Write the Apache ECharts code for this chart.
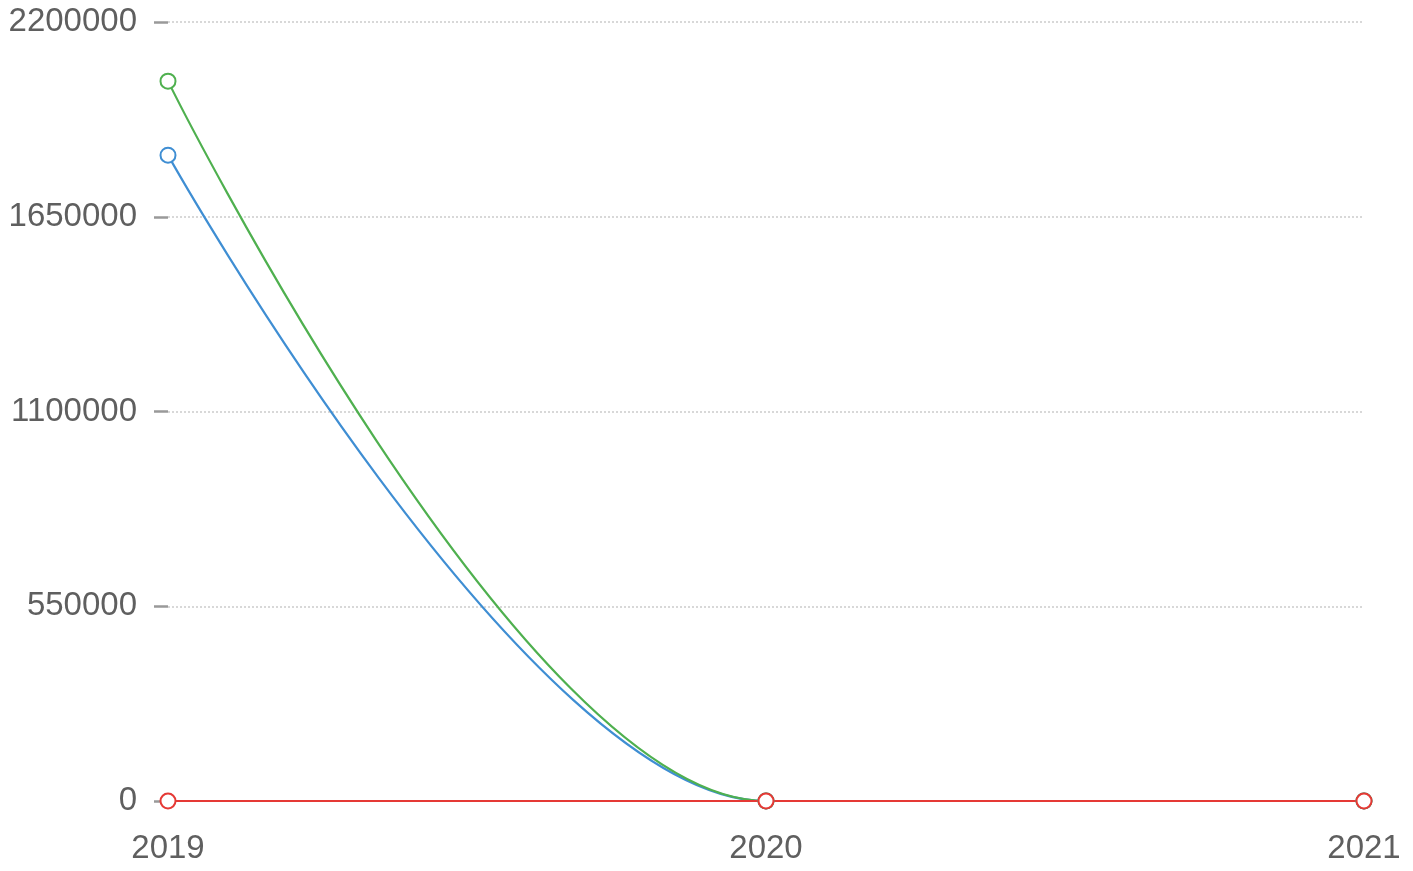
<!DOCTYPE html>
<html>
<head>
<meta charset="utf-8">
<script src="https://cdn.jsdelivr.net/npm/echarts@6/dist/echarts.min.js"></script>
<style>html,body{margin:0;padding:0;background:#fff}#c{width:1413px;height:871px}</style>
</head>
<body>
<div id="c"></div>
<script>
var categories = ['2019', '2020', '2021'];
var blueValues = [1824000, 0, 0];
var greenValues = [2033000, 0, 0];
var redValues = [0, 0, 0];
var yTicks = [0, 550000, 1100000, 1650000, 2200000];

var chart = echarts.init(document.getElementById('c'));
function mk(data, color) {
  return {
    type: 'line', data: data, smooth: 0.33,
    symbol: 'emptyCircle', symbolSize: 15,
    lineStyle: { color: color, width: 2.2 },
    itemStyle: { color: color, borderColor: color, borderWidth: 2.8 }
  };
}
chart.setOption({
  animation: false,
  grid: { left: 168, right: 49, top: 22, bottom: 70, outerBoundsMode: 'none', containLabel: false },
  xAxis: {
    type: 'category', data: categories, boundaryGap: false,
    axisLine: { show: false }, axisTick: { show: false },
    axisLabel: { color: '#5f5f5f', fontSize: 33, fontFamily: 'Liberation Sans, Arial, sans-serif', margin: 31 }
  },
  yAxis: {
    type: 'value', min: yTicks[0], max: yTicks[yTicks.length - 1], interval: yTicks[1] - yTicks[0],
    axisLine: { show: false },
    axisTick: { show: true, length: 14, lineStyle: { color: '#999', width: 2.5 } },
    axisLabel: { color: '#5f5f5f', fontSize: 33, fontFamily: 'Liberation Sans, Arial, sans-serif', margin: 31,
      padding: [4, 0, 0, 0],
      formatter: function (v) { return String(v); } },
    splitLine: { lineStyle: { color: '#ccc', type: [2, 2], width: 1.5 } }
  },
  series: [mk(blueValues, '#3f8ed3'), mk(greenValues, '#4fb04f'), mk(redValues, '#e53935')]
});
</script>
</body>
</html>
